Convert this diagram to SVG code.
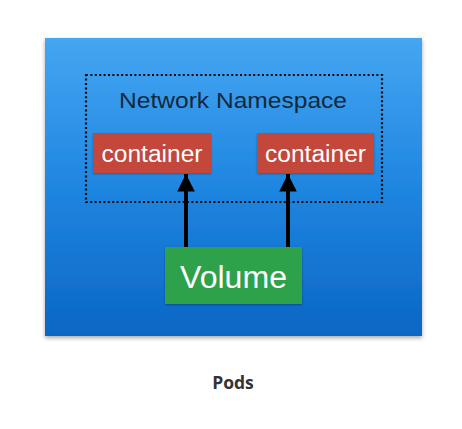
<svg xmlns="http://www.w3.org/2000/svg" width="462" height="429" viewBox="0 0 462 429">
<defs>
<linearGradient id="bg" x1="0" y1="0" x2="0" y2="1">
<stop offset="0" stop-color="#45a6f2"/>
<stop offset="0.5" stop-color="#1f86e0"/>
<stop offset="1" stop-color="#0b66c4"/>
</linearGradient>
<filter id="sh" x="-5%" y="-5%" width="110%" height="112%">
<feDropShadow dx="0" dy="2" stdDeviation="2" flood-color="#000" flood-opacity="0.35"/>
</filter>
<filter id="sh2" x="-10%" y="-10%" width="120%" height="130%">
<feDropShadow dx="0" dy="1" stdDeviation="1" flood-color="#000" flood-opacity="0.3"/>
</filter>
<marker id="ah" viewBox="0 0 10 10" refX="10" refY="5" markerWidth="4.4" markerHeight="4.4" markerUnits="strokeWidth" orient="auto">
<path d="M0,0 L10,5 L0,10 z" fill="#000"/>
</marker>
</defs>
<style>
.ctr{fill:#c4463a;}
.ctext{font-family:"Liberation Sans",Arial,sans-serif;font-size:23px;fill:#fff;text-anchor:middle;}
.conn{stroke:#000;stroke-width:4;fill:none;}
</style>
<rect x="0" y="0" width="462" height="429" fill="#fff"/>
<g id="pod">
<rect x="45" y="38" width="377" height="298" fill="url(#bg)" filter="url(#sh)"/>
</g>
<g id="namespace">
<rect x="86" y="75" width="296" height="127" fill="none" stroke="#0a0a0a" stroke-width="2.2" stroke-dasharray="2,2.4"/>
<text x="233" y="108" font-family="Liberation Sans,Arial,sans-serif" font-size="22" fill="#14283c" text-anchor="middle" textLength="228" lengthAdjust="spacingAndGlyphs">Network Namespace</text>
</g>
<g id="container1">
<rect class="ctr" x="93" y="133" width="118" height="40" filter="url(#sh2)"/>
<text class="ctext" x="152" y="162" textLength="101" lengthAdjust="spacingAndGlyphs">container</text>
</g>
<g id="container2">
<rect class="ctr" x="257" y="133" width="117" height="40" filter="url(#sh2)"/>
<text class="ctext" x="315.5" y="162" textLength="101" lengthAdjust="spacingAndGlyphs">container</text>
</g>
<g id="volume">
<rect x="165" y="247" width="137" height="57" fill="#2ea24b" filter="url(#sh2)"/>
<text x="233.5" y="288" font-family="Liberation Sans,Arial,sans-serif" font-size="31" fill="#fff" text-anchor="middle" textLength="107" lengthAdjust="spacingAndGlyphs">Volume</text>
</g>
<g id="connectors">
<line class="conn" x1="186" y1="247" x2="186" y2="174" marker-end="url(#ah)"/>
<line class="conn" x1="288" y1="247" x2="288" y2="174" marker-end="url(#ah)"/>
</g>
<text x="233" y="389" font-family="Open Sans,Liberation Sans,sans-serif" font-size="17.5" font-weight="bold" fill="#333" text-anchor="middle">Pods</text>
</svg>
